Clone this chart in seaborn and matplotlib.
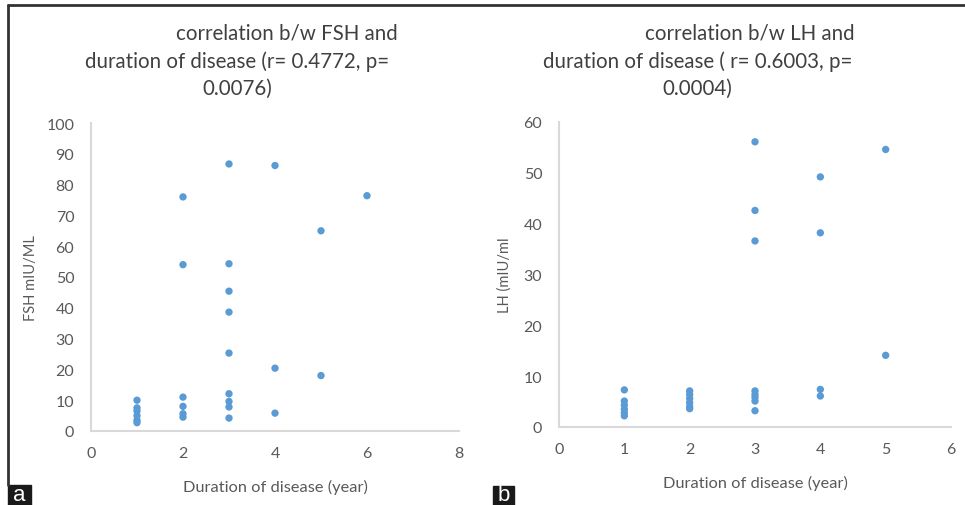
import matplotlib
matplotlib.use("Agg")
import matplotlib.pyplot as plt
import seaborn as sns
import pandas as pd
from matplotlib.patches import Rectangle
from matplotlib.lines import Line2D

# ---- data ----
fsh_duration = [1, 1, 1, 1, 1, 1,
                2, 2, 2, 2, 2, 2,
                3, 3, 3, 3, 3, 3, 3, 3, 3,
                4, 4, 4,
                5, 5,
                6]
fsh_values = [10, 7.5, 6.5, 5, 3.5, 2.7,
              76, 54, 11, 8, 5.6, 4.5,
              86.7, 54.3, 45.4, 38.6, 25.3, 12.1, 9.6, 7.8, 4.2,
              86.2, 20.4, 5.8,
              65, 18,
              76.4]

lh_duration = [1, 1, 1, 1, 1, 1,
               2, 2, 2, 2, 2, 2,
               3, 3, 3, 3, 3, 3, 3, 3,
               4, 4, 4, 4,
               5, 5]
lh_values = [7.3, 5.1, 4.3, 3.5, 2.8, 2.2,
             7.1, 6.4, 5.6, 4.8, 4.0, 3.6,
             56.1, 42.6, 36.6, 7.1, 6.4, 5.8, 5.1, 3.2,
             49.2, 38.2, 7.4, 6.1,
             54.6, 14.1]

fsh_title = ["correlation b/w FSH and", "duration of disease (r= 0.4772, p=", "0.0076)"]
lh_title = ["correlation b/w LH and", "duration of disease ( r= 0.6003, p=", "0.0004)"]
xlabel = "Duration of disease (year)"
fsh_ylabel = "FSH mIU/ML"
lh_ylabel = "LH (mIU/ml"

fsh_df = pd.DataFrame({"x": fsh_duration, "y": fsh_values})
lh_df = pd.DataFrame({"x": lh_duration, "y": lh_values})

sns.set_theme(style="white")
plt.rcParams["font.family"] = ["Lato", "DejaVu Sans"]

W, H = 965, 506
fig = plt.figure(figsize=(W / 100, H / 100), dpi=100)
fig.patch.set_facecolor("white")

def fx(px):
    return px / W

def fy(py):
    return 1 - py / H

POINT = "#5B9BD5"
TICK = "#595959"
SPINE = "#D9D9D9"

def make_panel(rect, df, xlim, xticks, ylim, yticks, ylabel, ylab_x, xlab_y):
    ax = fig.add_axes(rect)
    sns.scatterplot(data=df, x="x", y="y", ax=ax, color=POINT, s=28,
                    edgecolor="none", linewidth=0)
    ax.set_xlim(*xlim)
    ax.set_ylim(*ylim)
    ax.set_xticks(xticks)
    ax.set_yticks(yticks)
    ax.set_xticklabels([str(t) for t in xticks])
    ax.set_yticklabels([str(t) for t in yticks])
    ax.tick_params(axis="both", length=0, labelsize=11.5, labelcolor=TICK)
    ax.tick_params(axis="x", pad=11)
    ax.tick_params(axis="y", pad=12)
    for s in ["top", "right"]:
        ax.spines[s].set_visible(False)
    for s in ["left", "bottom"]:
        ax.spines[s].set_color(SPINE)
        ax.spines[s].set_linewidth(1.5)
    ax.set_xlabel(xlabel, fontsize=11.8, color=TICK)
    ax.set_ylabel(ylabel, fontsize=10.5, color=TICK)
    ax.xaxis.set_label_coords(0.5, xlab_y)
    ax.yaxis.set_label_coords(ylab_x, 0.5)
    ax.grid(False)
    return ax

# panel a
ax1 = make_panel([fx(91), fy(432), fx(459) - fx(91), fy(124) - fy(432)],
                 fsh_df, (0, 8), [0, 2, 4, 6, 8], (0, 100), list(range(0, 101, 10)),
                 fsh_ylabel, -0.145, -0.155)
# panel b
ax2 = make_panel([fx(559), fy(428), fx(951) - fx(559), fy(123) - fy(428)],
                 lh_df, (0, 6), [0, 1, 2, 3, 4, 5, 6], (0, 60), list(range(0, 61, 10)),
                 lh_ylabel, -0.12, -0.158)

TITLE = "#404040"
for (cx, cy), line in zip([(287, 33), (237, 62), (237, 89)], fsh_title):
    fig.text(fx(cx), fy(cy), line, ha="center", va="center", fontsize=14.8, color=TITLE)
for (cx, cy), line in zip([(750, 33), (698, 62), (697, 89)], lh_title):
    fig.text(fx(cx), fy(cy), line, ha="center", va="center", fontsize=14.8, color=TITLE)

# frame lines
fig.add_artist(Line2D([fx(8), 1.0], [fy(6), fy(6)], color="#333333", lw=2))
fig.add_artist(Line2D([fx(8), fx(8)], [fy(6), fy(486)], color="#333333", lw=2))

# panel letters
fig.add_artist(Rectangle((fx(8), 0), fx(31) - fx(8), fy(486), color="#1a1a1a"))
fig.text(fx(19.5), fy(496), "a", ha="center", va="center", color="white",
         fontsize=16, family=["Liberation Sans", "DejaVu Sans"])
fig.add_artist(Rectangle((fx(493), 0), fx(514) - fx(493), fy(487), color="#1a1a1a"))
fig.text(fx(503.5), fy(496), "b", ha="center", va="center", color="white",
         fontsize=16, family=["Liberation Sans", "DejaVu Sans"])

fig.savefig("out.png", dpi=100, facecolor="white")
